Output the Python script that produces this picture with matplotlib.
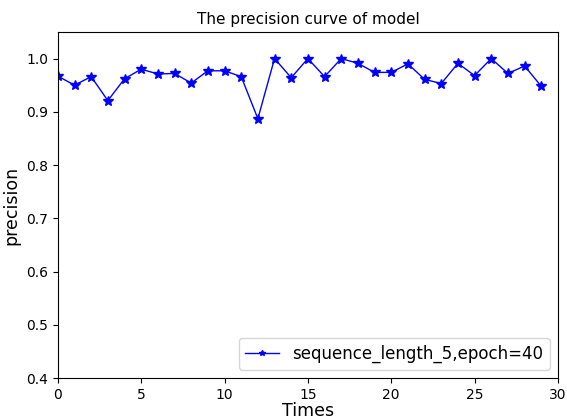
import matplotlib
matplotlib.use("Agg")
import matplotlib.pyplot as plt
import numpy as np

# precision per run
times = np.arange(30)
precision = [0.967, 0.950, 0.966, 0.921, 0.962, 0.980, 0.971, 0.972, 0.954, 0.977,
             0.977, 0.966, 0.887, 1.000, 0.964, 1.000, 0.966, 1.000, 0.991, 0.974,
             0.974, 0.990, 0.961, 0.953, 0.991, 0.968, 1.000, 0.972, 0.986, 0.948]
label = "sequence_length_5,epoch=40"

fig = plt.figure(figsize=(5.67, 4.2), dpi=100)
ax = fig.add_axes([0.102, 0.1, 0.882, 0.824])

ax.plot(times, precision, 'b-*', linewidth=1, markersize=7, label=label)

ax.set_xlim(0, 30)
ax.set_ylim(0.4, 1.05)
ax.set_xlabel('Times', fontsize=12.5, labelpad=0)
ax.set_ylabel('precision', fontsize=12.5)
ax.set_title('The precision curve of model', fontsize=11)
ax.legend(loc='lower right', fontsize=12, markerscale=0.6)

fig.savefig('out.png')
